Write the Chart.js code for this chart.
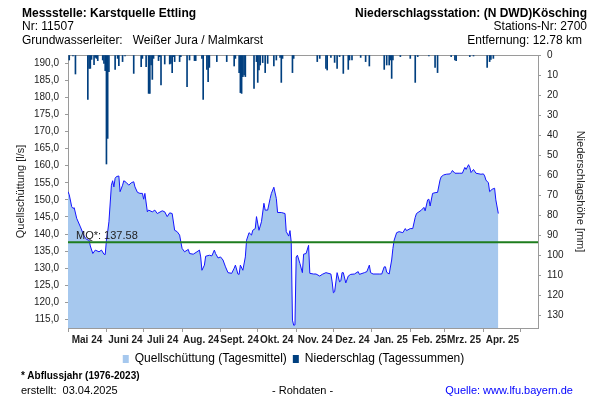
<!DOCTYPE html>
<html lang="de">
<head>
<meta charset="utf-8">
<title>Karstquelle Ettling</title>
<script src="https://cdn.jsdelivr.net/npm/chart.js@4.4.1/dist/chart.umd.min.js"></script>
<style>
  body { margin: 0; background: #fff; }
  #wrap { position: relative; width: 600px; height: 400px; font-family: "Liberation Sans", Arial, sans-serif; color: #000; }
  #chart { position: absolute; left: 0; top: 0; }
  .txt { position: absolute; white-space: pre; font-size: 12px; line-height: 14px; }
  .bold { font-weight: bold; }
  .right { text-align: right; }
</style>
</head>
<body>
<div id="wrap">
  <canvas id="chart" width="600" height="400"></canvas>
  <div class="txt bold" style="left:22px; top:6px;">Messstelle: Karstquelle Ettling</div>
  <div class="txt" style="left:22px; top:19px;">Nr: 11507</div>
  <div class="txt" style="left:22px; top:33px;">Grundwasserleiter:   Weißer Jura / Malmkarst</div>
  <div class="txt bold right" style="right:13px; top:6px;">Niederschlagsstation: (N DWD)Kösching</div>
  <div class="txt right" style="right:13px; top:19px;">Stations-Nr: 2700</div>
  <div class="txt right" style="right:18px; top:33px;">Entfernung: 12.78 km</div>
  <div id="mqLabel" class="txt" style="font-size:11px; line-height:13px; color:#222;">MQ*: 137.58</div>
  <div class="txt bold" style="left:21px; top:369px; font-size:10px; line-height:13px;">* Abflussjahr (1976-2023)</div>
  <div class="txt" style="left:21px; top:384px; font-size:11px; line-height:13px;">erstellt:  03.04.2025</div>
  <div class="txt" style="left:272px; top:384px; font-size:11px; line-height:13px;">- Rohdaten -</div>
  <div class="txt right" style="right:27px; top:384px; font-size:11px; line-height:13px; color:#0000ff;">Quelle: www.lfu.bayern.de</div>
</div>
<script>
// x axis: days since 01.05.2024
const monthStarts = [0, 31, 61, 92, 123, 153, 184, 214, 245, 276, 304, 335, 365];
const monthLabels = ['Mai 24', 'Juni 24', 'Juli 24', 'Aug. 24', 'Sept. 24', 'Okt. 24', 'Nov. 24', 'Dez. 24', 'Jan. 25', 'Feb. 25', 'Mrz. 25', 'Apr. 25'];
const flowTicks = [115, 120, 125, 130, 135, 140, 145, 150, 155, 160, 165, 170, 175, 180, 185, 190];
const rainTicks = [0, 10, 20, 30, 40, 50, 60, 70, 80, 90, 100, 110, 120, 130];
const mqValue = 137.58;

// Quellschüttung (Tagesmittel) [l/s]
const flowDays = [0, 1, 3, 4, 5, 7, 10, 13, 15, 17, 18, 20, 22, 25, 27, 29, 30, 31, 32, 33,
  35, 36, 37, 38, 39, 41, 42, 44, 45, 47, 49, 51, 53, 54, 56, 58, 60, 61, 62, 64,
  65, 68, 70, 72, 76, 78, 80, 82, 84, 86, 88, 90, 91, 92, 94, 97, 98, 101, 104, 106,
  107, 108, 110, 111, 114, 116, 118, 119, 121, 123, 125, 127, 129, 132, 134, 135, 137, 138, 139, 141,
  143, 144, 146, 148, 149, 151, 152, 154, 156, 158, 159, 161, 163, 164, 166, 168, 169, 172, 175, 176,
  178, 179, 180, 181, 182, 183, 184, 185, 187, 189, 190, 192, 194, 195, 198, 200, 203, 205, 208, 212,
  213, 214, 215, 217, 219, 220, 221, 222, 224, 226, 228, 231, 234, 235, 239, 241, 243, 244, 246, 251,
  253, 255, 256, 257, 259, 261, 262, 263, 265, 267, 270, 272, 273, 276, 278, 280, 281, 283, 285, 287,
  288, 290, 291, 292, 294, 296, 298, 300, 301, 303, 305, 308, 309, 310, 312, 316, 318, 320, 321, 323,
  324, 325, 327, 329, 333, 335, 336, 337, 339, 340, 342, 344, 345, 347];
const flowValues = [152.4, 151.5, 148.0, 147.5, 147.7, 144.6, 142.1, 139.4, 138.4, 138.2, 136.5, 134.3, 135.3, 134.8, 135.3, 134.1, 134.0, 138.2, 140.7, 143.6,
  154.3, 155.6, 153.8, 156.3, 156.8, 157.0, 152.4, 154.3, 155.6, 155.1, 154.3, 155.0, 155.3, 153.8, 152.2, 151.9, 151.9, 150.2, 151.9, 146.5,
  147.0, 146.5, 147.0, 146.0, 146.8, 146.5, 145.1, 146.2, 146.0, 141.1, 140.7, 139.7, 137.7, 135.8, 134.8, 135.5, 134.3, 134.1, 134.8, 135.3,
  133.3, 129.4, 130.9, 133.5, 133.8, 133.6, 135.3, 134.3, 133.0, 133.3, 132.4, 130.4, 128.7, 128.5, 130.0, 130.9, 128.3, 128.2, 130.9, 129.4,
  133.3, 138.2, 140.4, 139.7, 141.1, 141.6, 145.1, 141.1, 143.6, 149.0, 147.0, 147.0, 150.4, 151.9, 153.7, 150.4, 146.3, 146.3, 146.0, 140.7,
  139.4, 141.0, 137.7, 114.8, 113.3, 113.4, 133.3, 133.8, 131.4, 128.7, 134.1, 134.3, 136.7, 128.5, 128.3, 128.3, 127.7, 128.2, 128.7, 128.3,
  126.0, 122.8, 123.1, 128.7, 126.0, 126.3, 128.7, 128.7, 125.7, 127.7, 128.2, 128.3, 129.0, 128.2, 128.7, 129.0, 130.9, 128.7, 128.3, 128.3,
  128.3, 130.4, 130.4, 128.8, 128.3, 132.4, 135.8, 138.2, 140.4, 140.7, 140.4, 141.6, 141.0, 141.6, 141.6, 144.9, 146.0, 146.5, 147.0, 147.8,
  146.8, 150.0, 150.2, 148.2, 151.9, 152.1, 152.2, 155.8, 156.8, 157.3, 157.5, 157.6, 158.0, 158.6, 157.8, 157.8, 157.8, 159.5, 158.9, 160.3,
  159.5, 158.0, 158.9, 157.8, 157.5, 157.6, 157.0, 155.8, 155.0, 152.4, 153.1, 153.4, 150.0, 146.0];

// Niederschlag (Tagessummen) [mm]
const rainDays = [1, 4, 6, 16, 17, 18, 19, 21, 22, 23, 24, 28, 29, 30, 31, 32, 33, 38, 40, 41,
  44, 46, 53, 59, 60, 63, 65, 66, 67, 68, 69, 73, 74, 75, 78, 82, 83, 84, 85, 86,
  90, 91, 96, 98, 102, 103, 108, 109, 112, 113, 114, 120, 128, 134, 135, 138, 139, 140, 141, 142,
  143, 150, 152, 153, 154, 155, 157, 159, 161, 166, 168, 171, 172, 173, 181, 182, 201, 203, 208, 209,
  212, 215, 217, 219, 222, 226, 227, 229, 236, 240, 243, 255, 257, 259, 260, 261, 262, 268, 276, 280,
  282, 291, 296, 298, 309, 312, 313, 324, 327, 338, 340, 341, 343];
const rainValues = [2.5, 0.5, 9.5, 22.2, 6.7, 6.7, 2.2, 4.8, 1.2, 1.7, 2.8, 2.5, 4.2, 7.8, 54.5, 41.7, 8.3, 7.2, 1.7, 5.3,
  3.3, 0.5, 9.2, 5.8, 1.7, 5.8, 19.2, 19.2, 5.0, 12.2, 1.7, 2.8, 0.8, 15.0, 4.5, 4.5, 4.2, 8.8, 0.8, 3.3,
  3.3, 0.8, 15.8, 2.5, 2.8, 2.8, 1.7, 22.2, 7.2, 13.3, 6.2, 3.3, 3.3, 5.5, 1.7, 8.8, 18.8, 19.2, 10.8, 10.0,
  10.8, 16.7, 3.3, 13.7, 7.5, 5.0, 3.8, 8.8, 4.2, 5.5, 2.5, 1.2, 13.7, 1.7, 8.8, 1.7, 3.3, 1.7, 6.7, 7.5,
  1.2, 3.7, 6.7, 0.8, 9.2, 7.2, 2.5, 2.5, 1.2, 3.3, 5.5, 7.2, 5.0, 5.0, 2.5, 11.7, 2.5, 0.8, 1.7, 13.7,
  0.8, 0.5, 6.2, 8.8, 0.8, 2.5, 2.8, 0.8, 0.5, 6.2, 3.3, 2.2, 1.7];

const axisGray = '#9a9a9a';
const fillBlue = '#a6c8ee';
const lineBlue = '#1414ff';
const rainBlue = '#003f7f';
const mqGreen = '#1e7d1e';

Chart.defaults.font.family = '"Liberation Sans", Arial, sans-serif';
Chart.defaults.color = '#222';

const mqLabelPlugin = {
    id: 'mqLabel',
    afterDraw(chart) {
        const el = document.getElementById('mqLabel');
        const y = chart.scales.y.getPixelForValue(mqValue);
        el.style.left = (chart.chartArea.left + 8) + 'px';
        el.style.top = (y - 13) + 'px';
    }
};

new Chart(document.getElementById('chart'), {
    type: 'bar',
    data: {
        datasets: [
            {
                type: 'bar',
                label: 'Niederschlag (Tagessummen)',
                data: rainDays.map((d, i) => ({ x: d, y: rainValues[i] })),
                backgroundColor: rainBlue,
                barThickness: 1,
                grouped: false,
                xAxisID: 'x',
                yAxisID: 'y2',
                order: 1
            },
            {
                type: 'line',
                label: 'Quellschüttung (Tagesmittel)',
                data: flowDays.map((d, i) => ({ x: d, y: flowValues[i] })),
                borderColor: lineBlue,
                backgroundColor: fillBlue,
                borderWidth: 1,
                pointRadius: 0,
                tension: 0,
                fill: 'start',
                xAxisID: 'x',
                yAxisID: 'y',
                order: 3
            },
            {
                type: 'line',
                label: 'MQ',
                data: [{ x: 0, y: mqValue }, { x: 379, y: mqValue }],
                borderColor: mqGreen,
                borderWidth: 2,
                pointRadius: 0,
                fill: false,
                xAxisID: 'x',
                yAxisID: 'y',
                order: 2
            }
        ]
    },
    options: {
        responsive: false,
        animation: false,
        events: [],
        layout: { padding: { top: 55, bottom: 25, left: 0, right: 13 } },
        plugins: {
            tooltip: { enabled: false },
            legend: {
                position: 'bottom',
                labels: {
                    boxWidth: 6,
                    boxHeight: 8,
                    padding: 6,
                    font: { size: 12 },
                    color: '#222',
                    generateLabels: () => [
                        { text: 'Quellschüttung (Tagesmittel)', fillStyle: fillBlue, strokeStyle: fillBlue, lineWidth: 0, datasetIndex: 1 },
                        { text: 'Niederschlag (Tagessummen)', fillStyle: rainBlue, strokeStyle: rainBlue, lineWidth: 0, datasetIndex: 0 }
                    ]
                }
            }
        },
        scales: {
            x: {
                type: 'linear',
                position: 'bottom',
                min: 0,
                max: 379,
                offset: false,
                afterBuildTicks: scale => { scale.ticks = monthStarts.map(v => ({ value: v })); },
                afterFit: scale => { scale.height = 19; },
                ticks: {
                    autoSkip: false,
                    maxRotation: 0,
                    labelOffset: 19,
                    padding: 2,
                    font: { size: 10, weight: 'bold' },
                    callback: (value, index) => monthLabels[index] || ''
                },
                grid: { drawOnChartArea: false, offset: false, color: axisGray, tickLength: 4 },
                border: { color: axisGray }
            },
            xTop: {
                type: 'linear',
                position: 'top',
                min: 0,
                max: 379,
                afterFit: scale => { scale.height = 0; },
                ticks: { display: false },
                grid: { drawOnChartArea: false, drawTicks: false, color: axisGray },
                border: { color: axisGray }
            },
            y: {
                type: 'linear',
                position: 'left',
                min: 112.5,
                max: 192.4,
                afterBuildTicks: scale => { scale.ticks = flowTicks.map(v => ({ value: v })); },
                afterFit: scale => { scale.width = 68; },
                ticks: {
                    padding: 6,
                    font: { size: 10 },
                    callback: value => value.toFixed(1).replace('.', ',')
                },
                title: {
                    display: true,
                    text: 'Quellschüttung [l/s]',
                    font: { size: 11 },
                    padding: { top: 14, bottom: 0 }
                },
                grid: { drawOnChartArea: false, color: axisGray, tickLength: 3 },
                border: { color: axisGray }
            },
            y2: {
                type: 'linear',
                position: 'right',
                reverse: true,
                min: 0,
                max: 136.5,
                afterBuildTicks: scale => { scale.ticks = rainTicks.map(v => ({ value: v })); },
                afterFit: scale => { scale.width = 49; },
                ticks: { padding: 6, font: { size: 10 } },
                title: {
                    display: true,
                    text: 'Niederschlagshöhe [mm]',
                    font: { size: 11 },
                    padding: { top: 0, bottom: 0 }
                },
                grid: { drawOnChartArea: false, color: axisGray, tickLength: 3 },
                border: { color: axisGray }
            }
        }
    },
    plugins: [mqLabelPlugin]
});
</script>
</body>
</html>
